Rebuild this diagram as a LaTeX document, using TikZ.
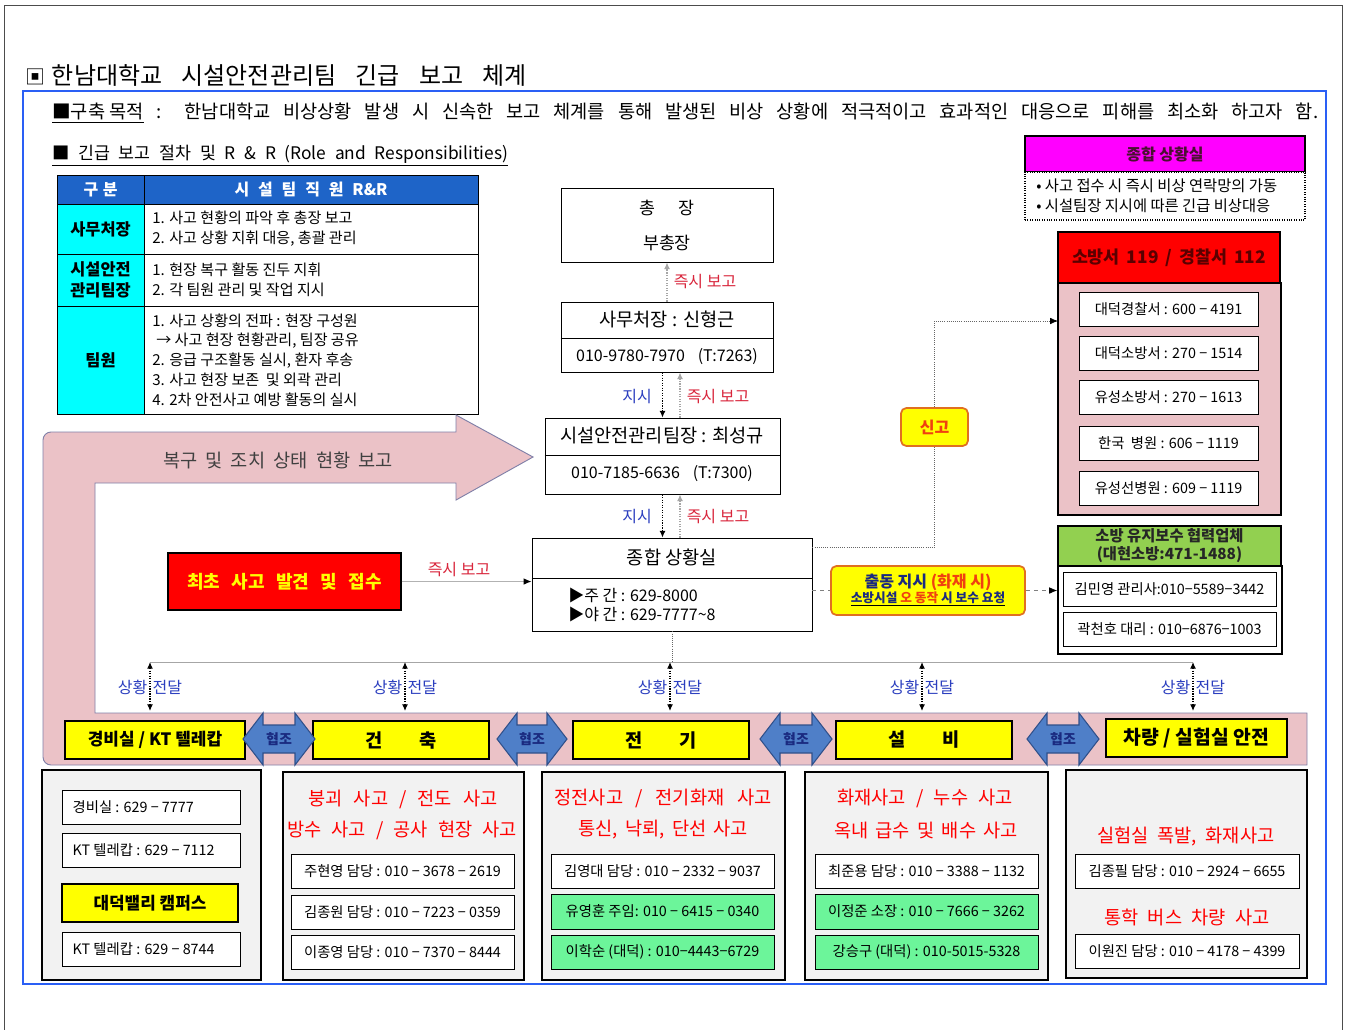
\documentclass[tikz,border=0pt]{standalone}
\usepackage{fontspec}
\setmainfont{Noto Sans CJK KR}
\usetikzlibrary{arrows.meta,calc}
\definecolor{frameblue}{HTML}{2A5FF5}
\definecolor{hdrblue}{HTML}{1E64C8}
\definecolor{pinkfill}{HTML}{EBC2C7}
\definecolor{bandline}{HTML}{8080A8}
\definecolor{coopgreen}{HTML}{92D050}
\definecolor{mint}{HTML}{6CF59A}
\definecolor{orangeb}{HTML}{E07020}
\definecolor{orangered}{HTML}{F04010}
\definecolor{labred}{HTML}{D9263C}
\definecolor{labblue}{HTML}{2C3FBF}
\definecolor{navy}{HTML}{1A2A80}
\definecolor{darkred}{HTML}{5A0000}
\definecolor{hjblue}{HTML}{4F7FC8}
\definecolor{hjedge}{HTML}{30508A}
\definecolor{magfill}{HTML}{FF00FF}
\definecolor{magtext}{HTML}{4A1030}
\definecolor{cyanfill}{HTML}{00FFFF}
\definecolor{yfill}{HTML}{FFFF00}
\definecolor{rfill}{HTML}{FF0000}
\newcommand\sz[2]{\fontsize{#1}{#2}\selectfont}
\newcommand\spreadbox[2]{\makebox[\dimexpr #1pt*3/4\relax][s]{#2}}
\newcommand\mkbox[7]{\node[#6, minimum width={(#4-#2)*0.75pt}, minimum height={(#5-#3)*0.75pt}, inner sep=0pt] (#1) at ({(#2+#4)/2},{(#3+#5)/2}) {#7};}
\newcommand\hjo[3]{%
  \draw[fill=hjblue, draw=hjedge, line width=0.8pt] (#2,739) -- (#2+20,713) -- (#2+20,725) -- (#3-20,725) -- (#3-20,713) -- (#3,739) -- (#3-20,765) -- (#3-20,753) -- (#2+20,753) -- (#2+20,765) -- cycle;
  \node[font=\bfseries\sz{10.5}{12}, text=navy] (#1) at ({(#2+#3)/2},739) {협조};}
\begin{document}
\begin{tikzpicture}[x=0.75pt,y=-0.75pt,
  wbox/.style={draw=black, line width=0.7pt, fill=white, font=\sz{10.75}{12}},
  gbox/.style={wbox, fill=mint},
  hdr/.style={draw=black, line width=0.7pt, fill=hdrblue, text=white, font=\bfseries\sz{12}{13}},
  cyancell/.style={draw=black, line width=0.7pt, fill=cyanfill, font=\bfseries\sz{12.3}{15.5}, align=center},
  wcell/.style={draw=black, line width=0.7pt, fill=white},
  cellt/.style={anchor=west, align=left, inner sep=0pt, font=\sz{11.3}{14.8}},
  redlab/.style={text=labred, font=\sz{12}{13}},
  bluelab/.style={text=labblue, font=\sz{12}{13}},
  garrow/.style={draw=gray!70, densely dotted, line width=0.9pt, -{Latex[length=5pt,width=4.5pt]}},
  karrow/.style={draw=black, densely dotted, line width=0.9pt, -{Latex[length=5pt,width=4.5pt]}},
  dotline/.style={draw=black!60, densely dotted, line width=0.6pt},
  dashline/.style={draw=black!50, dashed, line width=0.6pt},
  ybox/.style={draw=black, line width=1pt, fill=yfill, font=\bfseries\sz{14}{15}},
  panel/.style={draw=black, line width=1.2pt, fill=black!5},
  redtxt/.style={text=red, font=\sz{14}{15}},
  rbox/.style={draw=orangeb, line width=1.3pt, fill=yfill, rounded corners=4pt}
]
\useasboundingbox (0,0) rectangle (1348,1029);
\fill[white] (0,0) rectangle (1348,1029);
% page frame
\draw[black!70, line width=0.6pt] (4,1040) -- (4,5) -- (1342,5) -- (1342,1040);
% title
\node[anchor=west, font=\sz{18}{20}, inner sep=0pt] (title) at (25,75) {{\sz{15}{16}▣}\hspace{5pt}\spreadbox{475}{한남대학교 시설안전관리팀 긴급 보고 체계}};
% blue frame
\draw[frameblue, line width=2pt] (23,91) rectangle (1326,984);
\node[anchor=west, font=\sz{14}{15}, inner sep=0pt] (purpose) at (52,113) {\spreadbox{1266}{\underline{■구축 목적} : 한남대학교 비상상황 발생 시 신속한 보고 체계를 통해 발생된 비상 상황에 적극적이고 효과적인 대응으로 피해를 최소화 하고자 함.}};
\node[anchor=west, font=\sz{13}{14}, inner sep=0pt] (proc) at (52,156) {\underline{\spreadbox{456}{■ 긴급 보고 절차 및 R \& R (Role and Responsibilities)}}};

% R&R table
\mkbox{th1}{57}{175}{144}{204}{hdr}{\spreadbox{34}{구 분}}
\mkbox{th2}{144}{175}{478}{204}{hdr}{\spreadbox{153}{시 설 팀 직 원 R\&R}}
\mkbox{ta1}{57}{204}{144}{254}{cyancell}{사무처장}
\mkbox{tb1}{144}{204}{478}{254}{wcell}{}
\node[cellt] (tt1) at (152,229) {1. 사고 현황의 파악 후 총장 보고\\2. 사고 상황 지휘 대응, 총괄 관리};
\mkbox{ta2}{57}{254}{144}{306}{cyancell}{시설안전\\관리팀장}
\mkbox{tb2}{144}{254}{478}{306}{wcell}{}
\node[cellt] (tt2) at (152,280) {1. 현장 복구 활동 진두 지휘\\2. 각 팀원 관리 및 작업 지시};
\mkbox{ta3}{57}{306}{144}{414}{cyancell}{팀원}
\mkbox{tb3}{144}{306}{478}{414}{wcell}{}
\node[cellt] (tt3) at (152,360) {1. 사고 상황의 전파 : 현장 구성원\\\hspace{3pt}→ 사고 현장 현황관리, 팀장 공유\\2. 응급 구조활동 실시, 환자 후송\\3. 사고 현장 보존\ \ 및 외곽 관리\\4. 2차 안전사고 예방 활동의 실시};

% 종합 상황실 (top right)
\mkbox{jhh}{1025}{136}{1305}{172}{draw=black, line width=0.8pt, fill=magfill, font=\bfseries\sz{12}{13}, text=magtext}{종합 상황실}
\mkbox{jhb}{1025}{172}{1305}{220}{draw=black, densely dotted, line width=0.8pt, fill=white}{}
\node[cellt, font=\sz{11.5}{15}] (jht) at (1036,196) {• 사고 접수 시 즉시 비상 연락망의 가동\\• 시설팀장 지시에 따른 긴급 비상대응};

% police / fire
\mkbox{polh}{1058}{232}{1280}{284}{draw=black, line width=1pt, fill=rfill, font=\bfseries\sz{13}{14}, text=darkred}{\spreadbox{194}{소방서 119 / 경찰서 112}}
\mkbox{pol}{1058}{283}{1281}{515}{draw=black, line width=1.2pt, fill=pinkfill}{}
\mkbox{p1}{1079}{292}{1258}{326}{wbox}{대덕경찰서 : 600 − 4191}
\mkbox{p2}{1079}{336}{1258}{370}{wbox}{대덕소방서 : 270 − 1514}
\mkbox{p3}{1079}{380}{1258}{414}{wbox}{유성소방서 : 270 − 1613}
\mkbox{p4}{1079}{426}{1258}{460}{wbox}{한국\ \ 병원 : 606 − 1119}
\mkbox{p5}{1079}{471}{1258}{505}{wbox}{유성선병원 : 609 − 1119}

% cooperation company
\mkbox{coh}{1058}{526}{1281}{566}{draw=black, line width=1pt, fill=coopgreen, font=\bfseries\sz{11.5}{13.5}, align=center, text=black!85}{소방 유지보수 협력업체\\(대현소방:471-1488)}
\mkbox{co}{1058}{566}{1282}{654}{draw=black, line width=1.2pt, fill=white}{}
\mkbox{c1}{1063}{572}{1276}{606}{wbox}{김민영 관리사:010−5589−3442}
\mkbox{c2}{1063}{612}{1276}{646}{wbox}{곽천호 대리 : 010−6876−1003}

% central chain
\mkbox{pres}{561}{188}{773}{262}{wcell}{}
\node[font=\sz{13}{14}] (presA) at (667,208) {총\hspace{1.3em}장};
\node[font=\sz{13}{14}] (presB) at (667,243) {부총장};

\mkbox{sa}{561}{302}{773}{372}{wcell}{}
\draw[black, line width=0.7pt] (sa.west |- 0,338) -- (sa.east |- 0,338);
\node[font=\sz{14}{15}] (saA) at (667,319) {사무처장 : 신형근};
\node[font=\sz{12}{13}] (saB) at (667,357) {010-9780-7970\hspace{0.8em}(T:7263)};

\mkbox{tl}{545}{418}{780}{494}{wcell}{}
\draw[black, line width=0.7pt] (tl.west |- 0,455) -- (tl.east |- 0,455);
\node[font=\sz{14}{15}] (tlA) at (662,436) {시설안전관리팀장 : 최성규};
\node[font=\sz{12}{13}] (tlB) at (662,474) {010-7185-6636\hspace{0.8em}(T:7300)};

\mkbox{jc}{532}{538}{812}{631}{wcell}{}
\draw[black, line width=0.7pt] (jc.west |- 0,578) -- (jc.east |- 0,578);
\node[font=\sz{14}{15}] (jcA) at (672,557) {종합 상황실};
\node[anchor=west, font=\sz{12}{13}, inner sep=0pt] (jcB) at (568,595) {▶주 간 : 629-8000};
\node[anchor=west, font=\sz{12}{13}, inner sep=0pt] (jcC) at (568,614) {▶야 간 : 629-7777\textasciitilde 8};

% arrows of the chain
\draw[garrow] (sa.north) -- (pres.south);
\node[redlab] (lb1) at (705,282) {즉시 보고};
\coordinate (saBot) at (sa.south -| tl.north);
\draw[karrow] (saBot) -- (tl.north);
\draw[garrow] ($(tl.north)+(17.5,0)$) -- ($(saBot)+(17.5,0)$);
\node[bluelab] (lz1) at (637,397) {지시};
\node[redlab] (lb2) at (718,397) {즉시 보고};
\coordinate (jcTop) at (tl.south |- jc.north);
\draw[karrow] (tl.south) -- (jcTop);
\draw[garrow] ($(jcTop)+(17.5,0)$) -- ($(tl.south)+(17.5,0)$);
\node[bluelab] (lz2) at (637,517) {지시};
\node[redlab] (lb3) at (718,517) {즉시 보고};

% first discovery
\mkbox{first}{168}{553}{401}{610}{draw=black, line width=0.8pt, fill=rfill, text=yfill, font=\bfseries\sz{13.5}{15}}{\spreadbox{195}{최초 사고 발견 및 접수}}
\draw[draw=gray!60, line width=0.8pt, -{Latex[length=6pt,width=5pt,black]}] (first.east) -- (first.east -| jc.west);
\node[redlab] (lb4) at (459,570) {즉시 보고};

% report 신고
\mkbox{singo}{901}{408}{968}{446}{rbox, text=orangered, font=\bfseries\sz{12}{13}}{신고}
\coordinate (polIn) at (1058,321);
\draw[dotline] ($(jc.north east)+(0,10)$) -| (singo.south);
\draw[dotline, -{Latex[length=6pt,width=5pt,black]}] (singo.north) |- (polIn);

% dispatch
\mkbox{chul}{831}{566}{1025}{615}{rbox, align=center}{{\bfseries\sz{12}{15}\color{navy}출동 지시 \color{orangered}(화재 시)}\\[-1pt]{\bfseries\sz{9.5}{11}\underline{\color{navy}소방시설 \color{orangered}오 동작 \color{navy}시 보수 요청}}}
\draw[dashline] (jc.east |- chul.west) -- (chul.west);
\draw[dashline, -{Latex[length=6pt,width=5pt,black]}] (chul.east) -- (chul.east -| co.west);

% big L-shaped arrow band
\draw[draw=bandline, line width=0.7pt, fill=pinkfill] (200,432) -- (456,432) -- (456,415) -- (533,457) -- (456,500) -- (456,483) -- (95,483) -- (95,713) -- (1307,713) -- (1307,765) [rounded corners=6pt] -- (43,765) -- (43,432) -- cycle;
\node[text=black!75, font=\sz{14}{15}, inner sep=0pt] (bandtxt) at (278,460) {\spreadbox{230}{복구 및 조치 상태 현황 보고}};

% situation bus
\coordinate (bus1) at (150,662);
\coordinate (bus5) at (1193,662);
\draw[draw=gray!70, line width=0.6pt] (bus1) -- (bus5);
\coordinate (busJ) at (672,662);
\draw[dotline] (jc.south) -- (busJ);
\foreach \i/\x in {1/150,2/405,3/670,4/922,5/1193}{
  \coordinate (bt\i) at (\x,662);
  \coordinate (bb\i) at (\x,711);
  \draw[draw=black, densely dotted, line width=0.9pt, {Latex[length=5pt,width=4.5pt]}-{Latex[length=5pt,width=4.5pt]}] (bt\i) -- (bb\i);
  \node[bluelab, anchor=east, inner sep=1pt] (sl\i) at (\x-1,687) {상황};
  \node[bluelab, anchor=west, inner sep=1pt] (sr\i) at (\x+1,687) {전달};
}

% yellow department boxes
\mkbox{yb1}{65}{721}{245}{759}{ybox, font=\bfseries\sz{12.75}{14}}{경비실 / KT 텔레캅}
\mkbox{yb2}{313}{721}{489}{759}{ybox}{건\hspace{2em}축}
\mkbox{yb3}{573}{721}{749}{759}{ybox}{전\hspace{2em}기}
\mkbox{yb4}{836}{721}{1012}{759}{ybox}{설\hspace{2em}비}
\mkbox{yb5}{1106}{719}{1287}{757}{ybox, font=\bfseries\sz{14.5}{15}}{차량 / 실험실 안전}
\hjo{hj1}{243}{315}
\hjo{hj2}{497}{567}
\hjo{hj3}{760}{832}
\hjo{hj4}{1027}{1099}

% bottom panels
\mkbox{pn1}{42}{770}{261}{980}{panel}{}
\mkbox{q11}{62}{790}{240}{824}{wbox}{}
\node[anchor=west, font=\sz{10.75}{12}] (q11t) at (68,807) {경비실 : 629 − 7777};
\mkbox{q12}{62}{833}{240}{867}{wbox}{}
\node[anchor=west, font=\sz{10.75}{12}] (q12t) at (68,850) {KT 텔레캅 : 629 − 7112};
\mkbox{q13}{62}{884}{238}{922}{ybox, font=\bfseries\sz{12.7}{14}}{대덕밸리 캠퍼스}
\mkbox{q14}{62}{932}{240}{966}{wbox}{}
\node[anchor=west, font=\sz{10.75}{12}] (q14t) at (68,949) {KT 텔레캅 : 629 − 8744};

\mkbox{pn2}{283}{772}{524}{980}{panel}{}
\node[redtxt] (r21) at (403,799) {\spreadbox{189}{붕괴 사고 / 전도 사고}};
\node[redtxt] (r22) at (402,830) {\spreadbox{230}{방수 사고 / 공사 현장 사고}};
\mkbox{q21}{291}{854}{514}{888}{wbox}{주현영 담당 : 010 − 3678 − 2619}
\mkbox{q22}{291}{895}{514}{929}{wbox}{김종원 담당 : 010 − 7223 − 0359}
\mkbox{q23}{291}{935}{514}{969}{wbox}{이종영 담당 : 010 − 7370 − 8444}

\mkbox{pn3}{542}{772}{785}{980}{panel}{}
\node[redtxt] (r31) at (663,798) {\spreadbox{217}{정전사고 / 전기화재 사고}};
\node[redtxt] (r32) at (663,830) {\spreadbox{170}{통신, 낙뢰, 단선 사고}};
\mkbox{q31}{551}{854}{774}{888}{wbox}{김영대 담당 : 010 − 2332 − 9037}
\mkbox{q32}{551}{894}{774}{929}{gbox}{유영훈 주임: 010 − 6415 − 0340}
\mkbox{q33}{551}{935}{774}{969}{gbox}{이학순 (대덕) : 010−4443−6729}

\mkbox{pn4}{805}{772}{1048}{980}{panel}{}
\node[redtxt] (r41) at (925,798) {\spreadbox{176}{화재사고 / 누수 사고}};
\node[redtxt] (r42) at (926,830) {\spreadbox{184}{옥내 급수 및 배수 사고}};
\mkbox{q41}{815}{854}{1038}{888}{wbox}{최준용 담당 : 010 − 3388 − 1132}
\mkbox{q42}{815}{894}{1038}{929}{gbox}{이정준 소장 : 010 − 7666 − 3262}
\mkbox{q43}{815}{935}{1038}{969}{gbox}{강승구 (대덕) : 010-5015-5328}

\mkbox{pn5}{1066}{770}{1307}{978}{panel}{}
\node[redtxt] (r51) at (1186,836) {\spreadbox{177}{실험실 폭발, 화재사고}};
\mkbox{q51}{1075}{854}{1299}{888}{wbox}{김종필 담당 : 010 − 2924 − 6655}
\node[redtxt] (r52) at (1187,917) {\spreadbox{166}{통학 버스 차량 사고}};
\mkbox{q52}{1075}{934}{1299}{968}{wbox}{이원진 담당 : 010 − 4178 − 4399}
\end{tikzpicture}
\end{document}
